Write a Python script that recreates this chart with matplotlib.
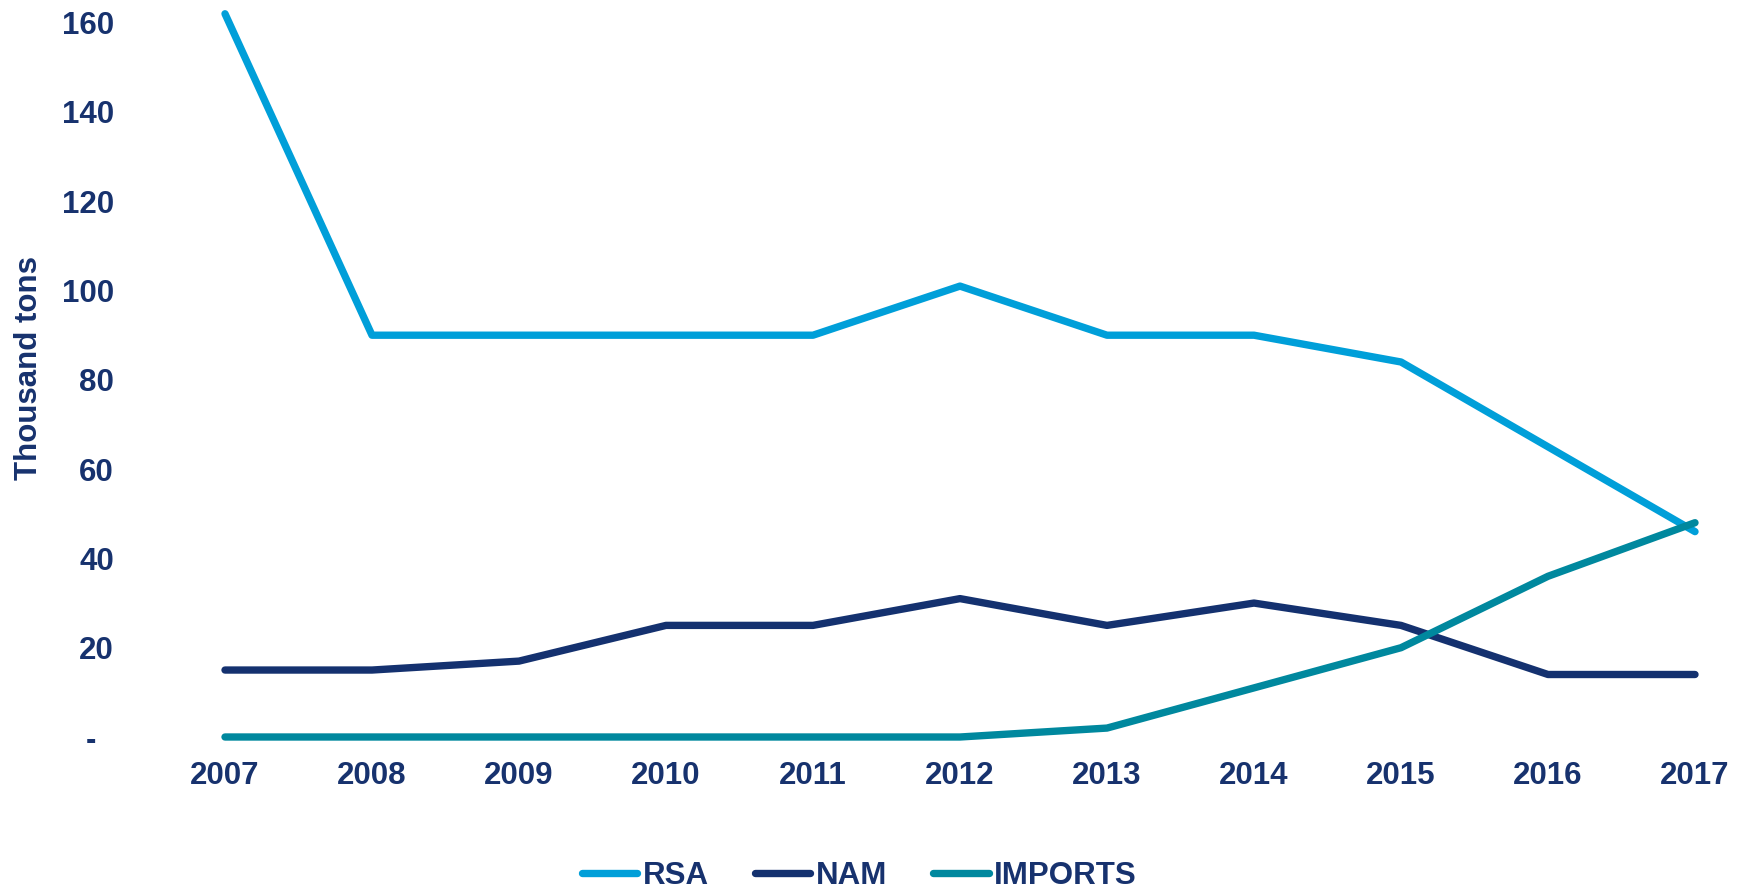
import matplotlib.pyplot as plt

# data (thousand tons)
years = [2007, 2008, 2009, 2010, 2011, 2012, 2013, 2014, 2015, 2016, 2017]
rsa = [162, 90, 90, 90, 90, 101, 90, 90, 84, 65, 46]
nam = [15, 15, 17, 25, 25, 31, 25, 30, 25, 14, 14]
imports = [0, 0, 0, 0, 0, 0, 2, 11, 20, 36, 48]
yticks = [0, 20, 40, 60, 80, 100, 120, 140, 160]
ytick_labels = ['-  ', '20', '40', '60', '80', '100', '120', '140', '160']

text_col = '#17326E'
fs = 22.5
plt.rcParams['font.family'] = ['Liberation Sans', 'DejaVu Sans']
plt.rcParams['font.weight'] = 'bold'

fig = plt.figure(figsize=(17.42, 8.88), dpi=100)
W, H = 1742, 888
ax = fig.add_axes([225 / W, 1 - 737 / H, (1695 - 225) / W, (737 - 22.7) / H])

ax.plot(years, rsa, color='#009FD9', lw=5.3, label='RSA', solid_capstyle='round', clip_on=False)
ax.plot(years, nam, color='#14316F', lw=5.3, label='NAM', solid_capstyle='round', clip_on=False)
ax.plot(years, imports, color='#00889E', lw=5.3, label='IMPORTS', solid_capstyle='round', clip_on=False)

ax.set_xlim(2007, 2017)
ax.set_ylim(0, 160)
ax.set_xticks(years)
ax.set_xticklabels([str(y) for y in years])
ax.set_yticks(yticks)
ax.set_yticklabels(ytick_labels)
ax.tick_params(axis='both', length=0, labelsize=fs, labelcolor=text_col)
ax.tick_params(axis='y', pad=80)
ax.tick_params(axis='x', pad=17)
for s in ax.spines.values():
    s.set_visible(False)

fig.text(29 / W, 1 - 368 / H, 'Thousand tons', rotation=90, ha='center', va='center',
         fontsize=fs, color=text_col, fontweight='bold')

fig.legend(loc='center', bbox_to_anchor=(859 / W, 1 - 876 / H), ncol=3, frameon=False,
           fontsize=fs, handlelength=1.79, handletextpad=0.16, columnspacing=1.47,
           labelcolor=text_col)

fig.savefig('out.png', dpi=100)
